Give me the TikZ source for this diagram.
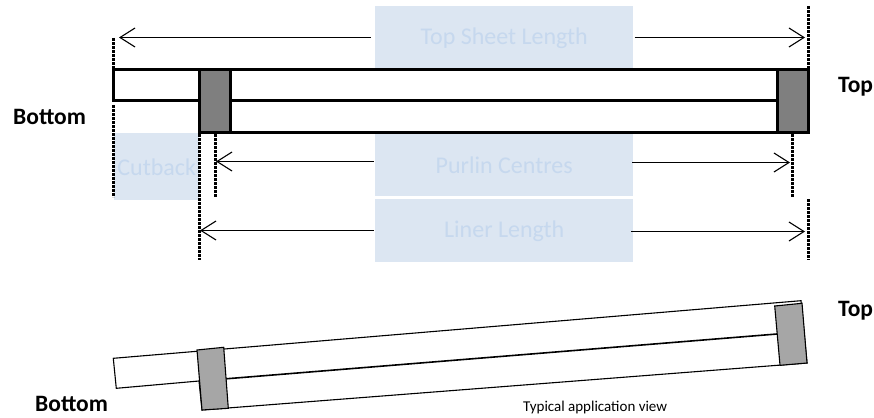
\documentclass[tikz,border=0pt]{standalone}
\usepackage{fontspec}
\setmainfont{Carlito}
\usetikzlibrary{arrows.meta}
\definecolor{boxblue}{HTML}{DCE6F2}
\definecolor{labelblue}{HTML}{C6D8EE}
\definecolor{blockgrey}{HTML}{7F7F7F}
\definecolor{tiltgrey}{HTML}{A6A6A6}
\newcommand{\lowered}[1]{\raisebox{0pt}[\dimexpr\height+2pt\relax]{#1}}
\tikzset{
  labelbox/.style={fill=boxblue,inner sep=0pt,text=labelblue,font=\fontsize{24}{28}\selectfont,anchor=north west},
  dimarrow/.style={draw=black,line width=1.1pt,-{Straight Barb[length=15pt,width=19pt,line width=1.1pt]}},
  dotline/.style={draw=black,line width=2.6pt,dash pattern=on 2.6pt off 1.4pt},
  heavy/.style={draw=black,line width=3pt},
  thin outline/.style={draw=black,line width=1.1pt},
  endlabel/.style={font=\fontsize{23.5}{27}\selectfont\bfseries,inner sep=0pt,anchor=base west},
}
\begin{document}
\begin{tikzpicture}[x=1pt,y=-1pt]
\useasboundingbox (0,0) rectangle (874,417);
% label boxes
\node[labelbox,minimum width=258pt,minimum height=63pt] (topsheet) at (375,6) {\lowered{Top Sheet Length}};
\node[labelbox,minimum width=258pt,minimum height=63pt] (purlin) at (375,133) {\lowered{Purlin Centres}};
\node[labelbox,minimum width=258pt,minimum height=63pt] (liner) at (375,199) {\lowered{Liner Length}};
\node[labelbox,minimum width=85pt,minimum height=67pt] (cutback) at (114,133) {\lowered{Cutback}};
% upper sheet
\draw[heavy,fill=white] (113.5,69.5) rectangle (808.5,101);
\draw[heavy,fill=white] (199.5,101) rectangle (808.5,132.5);
\draw[heavy,fill=blockgrey] (199.5,69.5) rectangle (230.5,132.5);
\draw[heavy,fill=blockgrey] (777.5,69.5) rectangle (808.5,132.5);
% dotted guides
\coordinate (a1) at (113.5,38); \coordinate (a2) at (113.5,68);
\coordinate (b1) at (113.5,105); \coordinate (b2) at (113.5,197);
\coordinate (c1) at (199.5,134); \coordinate (c2) at (199.5,260);
\coordinate (d1) at (215.5,134); \coordinate (d2) at (215.5,197);
\coordinate (e1) at (808.5,6); \coordinate (e2) at (808.5,68);
\coordinate (f1) at (792.5,134); \coordinate (f2) at (792.5,197);
\coordinate (g1) at (808.5,199); \coordinate (g2) at (808.5,260);
\foreach \p/\q in {a1/a2,b1/b2,c1/c2,d1/d2,e1/e2,f1/f2,g1/g2}
  \draw[dotline] (\p) -- (\q);
% arrows
\coordinate (tl0) at (370.5,37.5); \coordinate (tl) at (119,37.5);
\coordinate (tr0) at (634.5,37.5); \coordinate (tr) at (805,37.5);
\coordinate (pl0) at (373.5,161.5); \coordinate (pl) at (216,161.5);
\coordinate (pr0) at (632,162.5); \coordinate (pr) at (790,162.5);
\coordinate (ll0) at (373.5,230.5); \coordinate (ll) at (200,230.5);
\coordinate (lr0) at (631,231.5); \coordinate (lr) at (805,231.5);
\foreach \p/\q in {tl0/tl,tr0/tr,pl0/pl,pr0/pr,ll0/ll,lr0/lr}
  \draw[dimarrow] (\p) -- (\q);
% end labels
\node[endlabel] (bottomA) at (13,124.7) {Bottom};
\node[endlabel] (topA) at (838,93) {Top};
% lower tilted view
\draw[thin outline,fill=white] (113.3,358.3) -- (801,300.7) -- (807,363) -- (202,410) -- (199,381) -- (116.3,388.3) -- cycle;
\draw[draw=black,line width=1.6pt] (199,381) -- (777,334);
\draw[thin outline,fill=tiltgrey] (197,350) -- (223.7,347.3) -- (228.3,408.3) -- (202,410) -- cycle;
\draw[thin outline,fill=tiltgrey] (774.7,306) -- (802,303.3) -- (807,363) -- (780,365.3) -- cycle;
\node[endlabel] (bottomB) at (35,411.7) {Bottom};
\node[endlabel] (topB) at (838,316.7) {Top};
\node[font=\fontsize{15}{18}\selectfont,inner sep=0pt,anchor=west] (view) at (523,407) {Typical application view};
\end{tikzpicture}
\end{document}
